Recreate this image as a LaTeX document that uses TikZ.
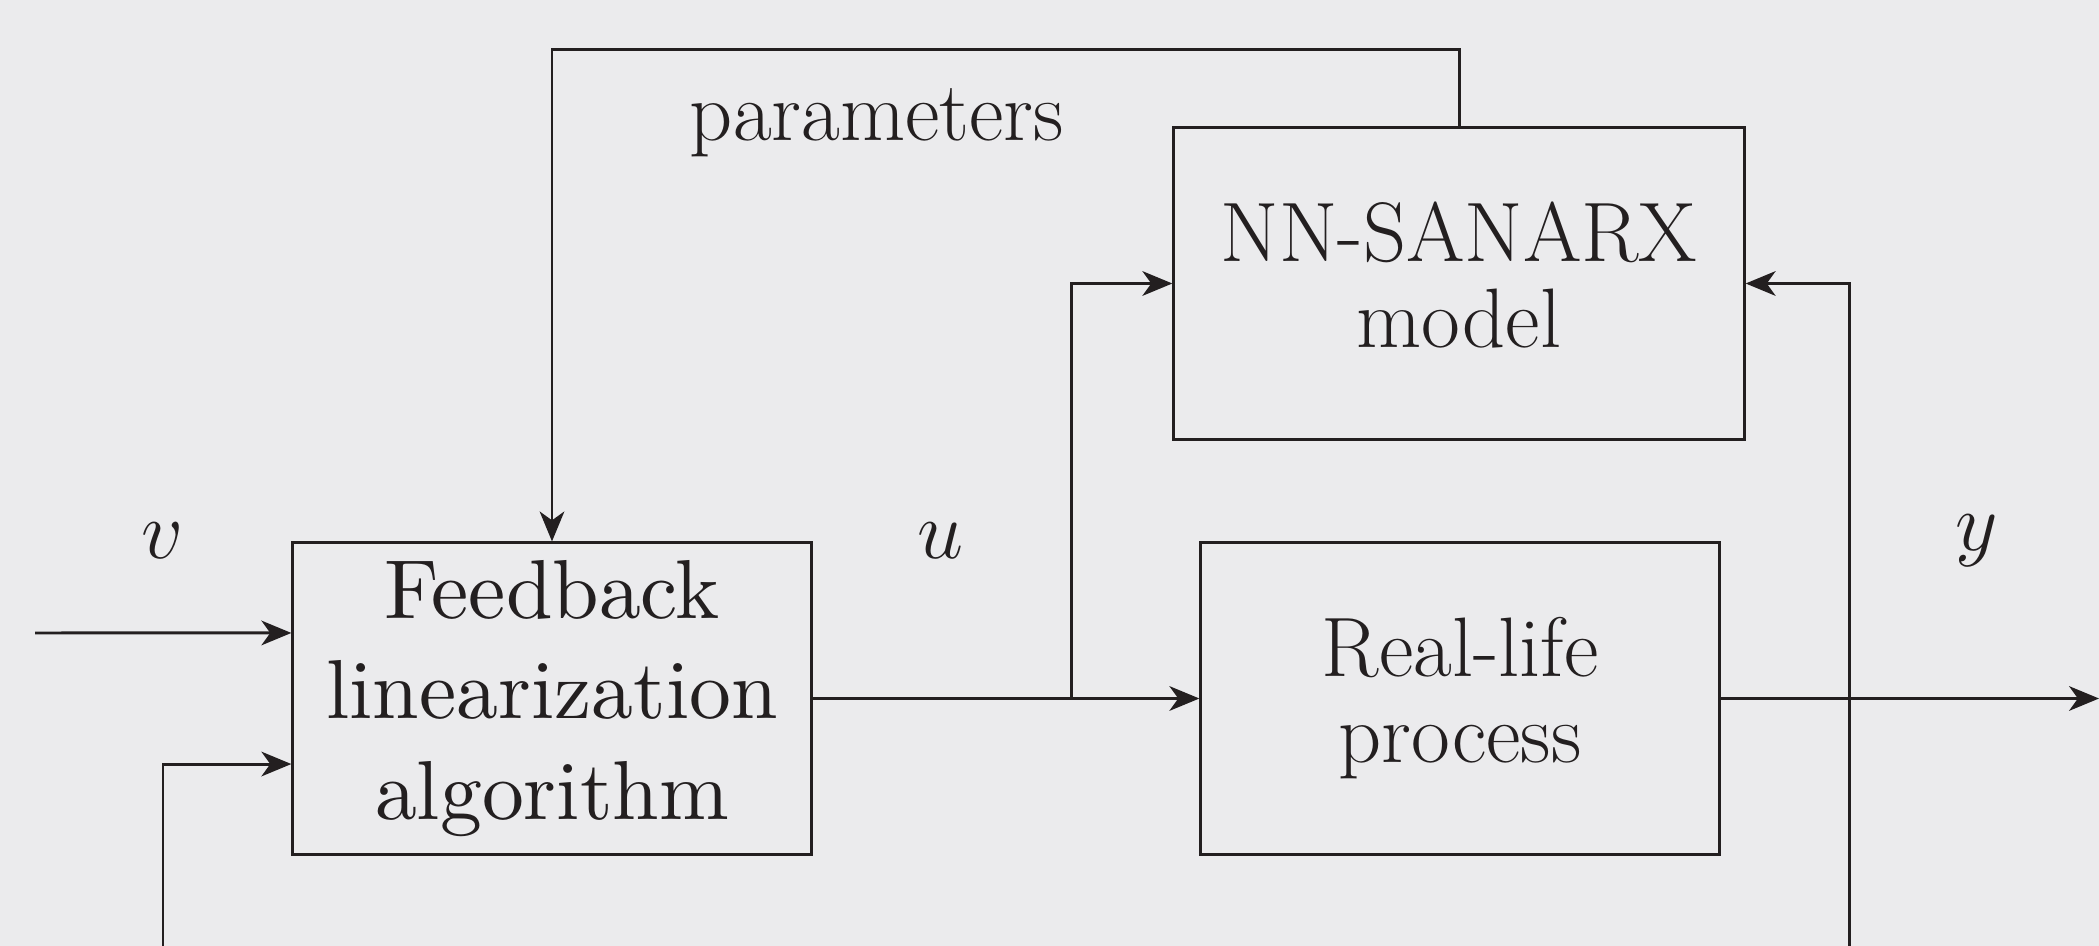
\RequirePackage{fix-cm}
\documentclass[tikz,border=0pt]{standalone}
\usetikzlibrary{arrows.meta}
\definecolor{bg}{HTML}{EBEBED}
\definecolor{ink}{HTML}{231F20}
\font\fbfont="[lmroman10-regular]:+tlig;" at 23.8pt
\begin{document}
\begin{tikzpicture}[x=0.01cm,y=-0.01cm,
  blk/.style={draw=ink, line width=0.85pt, align=center, inner sep=0pt, text=ink,
    font=\fontsize{24}{24.5}\selectfont},
  lbl/.style={text=ink, inner sep=0pt, font=\fontsize{23.5}{24}\selectfont},
  conn/.style={draw=ink, line width=0.85pt},
  arr/.style={conn, -{Stealth[length=8.5pt,width=7pt,inset=2.5pt]}}]
\fill[bg] (0,0) rectangle (2099,946);
\useasboundingbox (0,0) rectangle (2099,946);
\begin{scope}
\clip (0,0) rectangle (2099,946);
\node[blk, minimum width=5.18cm, minimum height=3.11cm,
  font=\fontsize{23.8}{24}\selectfont\fbfont] (fb) at (552,698.5)
  {Feedback\\[4.5pt]linearization\\[4.5pt]algorithm};
\node[blk, minimum width=5.70cm, minimum height=3.11cm, text depth=5.1pt] (nn) at (1459,283.5)
  {NN-SANARX\\model};
\node[blk, minimum width=5.18cm, minimum height=3.11cm] (rl) at (1460,698.5)
  {Real-life\\process};
\node[lbl] (vl) at (163,541) {$v$};
\node[lbl] (ul) at (941,541) {$u$};
\node[lbl] (yl) at (1977,541) {$y$};
\node[lbl, font=\fontsize{24}{24}\selectfont] (pl) at (877,123) {parameters};
\coordinate (vin) at (35,633);
\coordinate (fbin) at (163,950);
\coordinate (br) at (1071,698.5);
\coordinate (ybk) at (1849,950);
\coordinate (yout) at (2099,698.5);
\draw[arr] (vin) -- ([yshift=0.655cm]fb.west);
\draw[arr] (fbin) |- ([yshift=-0.655cm]fb.west);
\draw[arr] (fb.east) -- (rl.west);
\draw[arr] (br) |- (nn.west);
\draw[arr] (ybk) |- (nn.east);
\draw[arr] (rl.east) -- (yout);
\draw[arr] (nn.north) -- ++(0,-77) -| (fb.north);
\end{scope}
\end{tikzpicture}
\end{document}
